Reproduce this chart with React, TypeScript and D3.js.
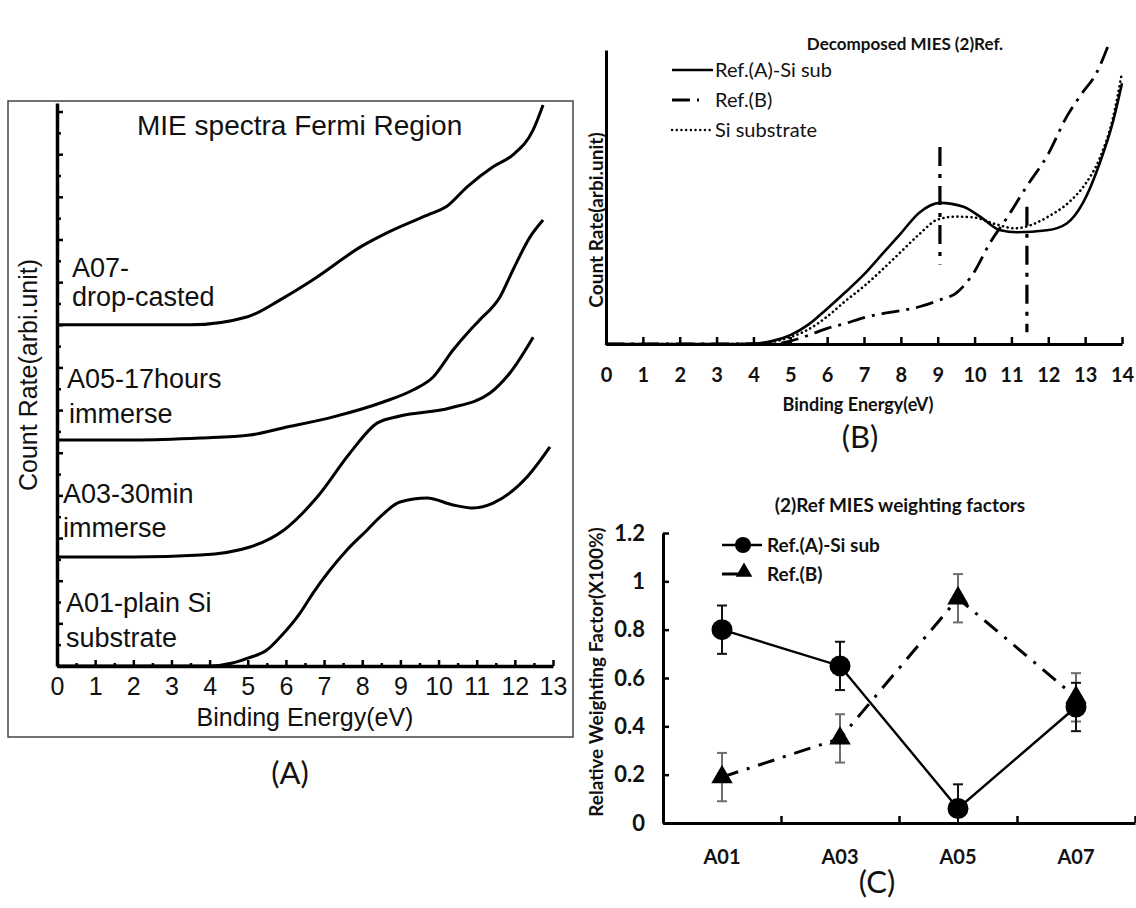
import React, { useEffect, useRef } from 'react'
import * as d3 from 'd3'

// ---------- (A) MIE spectra, Fermi region ----------
const sampleNames = ['A01-plain Si', 'A03-30min', 'A05-17hours', 'A07-']
const sampleSub = ['substrate', 'immerse', 'immerse', 'drop-casted']
const baseOffsets = [0, 5.11, 10.6, 16.0]
const eA01 = [0, 2, 4, 4.6, 5, 5.5, 5.85, 6.37, 6.71, 7.6, 8.13, 8.47, 8.99, 9.7, 10.38, 10.9, 11.43, 12.32, 12.92]
const cA01 = [0, 0, 0, 0.14, 0.37, 0.75, 1.36, 2.48, 3.42, 5.44, 6.38, 6.99, 7.69, 7.88, 7.55, 7.41, 7.64, 8.86, 10.27]
const eA03 = [0, 2, 3.76, 5.06, 5.95, 6.82, 7.68, 8.39, 8.99, 10.3, 11.35, 11.87, 12.48]
const cA03 = [0, 0, 0.09, 0.47, 1.27, 2.81, 4.88, 6.28, 6.61, 6.99, 7.69, 8.63, 10.31]
const eA05 = [0, 2, 3.76, 5.06, 5.92, 7.24, 8.55, 9.33, 9.86, 10.38, 10.83, 11.08, 11.61, 11.95, 12.4, 12.74]
const cA05 = [0, 0, 0.09, 0.23, 0.56, 1.08, 1.78, 2.34, 2.95, 4.22, 5.16, 5.63, 6.7, 7.97, 9.52, 10.31]
const eA07 = [0, 2, 3.5, 5.0, 5.85, 6.71, 8.0, 8.7, 9.78, 10.2, 10.75, 11.43, 11.95, 12.48, 12.74]
const cA07 = [0, 0, 0, 0.38, 1.17, 2.11, 3.7, 4.36, 5.2, 5.53, 6.47, 7.41, 7.97, 9.14, 10.31]
const spectraE = [eA01, eA03, eA05, eA07]
const spectraC = [cA01, cA03, cA05, cA07]
const ticksA = d3.range(0, 14)

// ---------- (B) decomposed MIES, 2 references ----------
const eRefA = [0, 3.5, 4.0, 4.5, 5.0, 5.5, 6.0, 6.5, 7.0, 7.5, 8.0, 8.5, 9.06, 9.7, 10.15, 10.7, 11.15, 11.96, 12.5, 12.94, 13.4, 13.75, 14.0]
const cRefA = [0, 0, 0.005, 0.03, 0.09, 0.2, 0.36, 0.53, 0.71, 0.92, 1.13, 1.34, 1.44, 1.4, 1.3, 1.16, 1.14, 1.16, 1.23, 1.44, 1.85, 2.26, 2.66]
const eRefB = [0, 4.5, 5.0, 5.5, 6.0, 6.5, 7.0, 7.5, 8.0, 8.5, 9.06, 9.5, 10.0, 10.4, 10.9, 11.4, 12.0, 12.5, 12.9, 13.3, 13.62]
const cRefB = [0, 0, 0.03, 0.09, 0.16, 0.21, 0.27, 0.31, 0.34, 0.38, 0.45, 0.52, 0.74, 1.02, 1.3, 1.6, 1.94, 2.32, 2.55, 2.76, 3.04]
const eSi = [0, 4.0, 4.5, 5.0, 5.5, 6.0, 6.5, 7.0, 7.5, 8.0, 8.5, 9.0, 9.5, 10.0, 10.6, 11.1, 11.5, 12.0, 12.6, 13.0, 13.4, 13.75, 14.0]
const cSi = [0, 0, 0.02, 0.07, 0.15, 0.28, 0.44, 0.59, 0.76, 0.94, 1.12, 1.27, 1.3, 1.29, 1.22, 1.18, 1.21, 1.3, 1.46, 1.63, 1.9, 2.3, 2.77]
const markerE = [9.06, 11.42]
const markerFrom = [2.01, 1.4]
const markerTo = [0.81, 0.12]
const legendB = ['Ref.(A)-Si sub', 'Ref.(B)', 'Si substrate']
const ticksB = d3.range(0, 15)

// ---------- (C) weighting factors ----------
const samples = ['A01', 'A03', 'A05', 'A07']
const wRefA = [0.8, 0.65, 0.06, 0.48]
const wRefB = [0.19, 0.35, 0.93, 0.52]
const errRefA = [0.1, 0.1, 0.1, 0.1]
const errRefB = [0.1, 0.1, 0.1, 0.1]
const ticksC = [0, 0.2, 0.4, 0.6, 0.8, 1, 1.2]

const ARIAL = 'Liberation Sans, Arial, sans-serif'
const CAL = 'Lato, Open Sans, sans-serif'

function App() {
  const ref = useRef<SVGSVGElement>(null)

  useEffect(() => {
    const svg = d3.select(ref.current)
    svg.selectAll('*').remove()
    drawA(svg)
    drawB(svg)
    drawC(svg)
  }, [])

  return (
    <svg ref={ref} width={1136} height={908}
      style={{ position: 'absolute', left: 0, top: 0, background: '#fff' }} />
  )
}

function text(g: any, x: number, y: number, s: string, font: string, size: number, opts: any = {}) {
  return g.append('text')
    .attr('x', x).attr('y', y)
    .attr('font-family', font)
    .attr('font-size', size)
    .attr('font-weight', opts.bold ? 'bold' : 'normal')
    .attr('text-anchor', opts.anchor || 'start')
    .attr('transform', opts.rotate ? `rotate(-90,${x},${y})` : null)
    .attr('fill', '#111')
    .text(s)
}

function styleAxis(g: any, font: string, size: number, bold: boolean, width: number) {
  g.select('.domain').attr('stroke', '#000').attr('stroke-width', width)
  g.selectAll('.tick line').attr('stroke', '#000').attr('stroke-width', 2.5)
  g.selectAll('.tick text')
    .attr('font-family', font).attr('font-size', size)
    .attr('font-weight', bold ? 'bold' : 'normal').attr('fill', '#111')
}

function drawA(svg: any) {
  const g = svg.append('g')
  const x = d3.scaleLinear().domain([0, 13]).range([57, 553])
  const y = d3.scaleLinear().domain([0, 26.4]).range([666, 103])

  g.append('rect').attr('x', 8).attr('y', 101).attr('width', 565).attr('height', 636)
    .attr('fill', 'none').attr('stroke', '#444').attr('stroke-width', 1.5)

  const xa = g.append('g').attr('transform', 'translate(0,666)')
    .call(d3.axisBottom(x).tickValues(ticksA).tickSize(-6).tickSizeOuter(0).tickPadding(11).tickFormat(d3.format('d')))
  styleAxis(xa, ARIAL, 25, false, 3.5)
  const xm = g.append('g').attr('transform', 'translate(0,666)')
    .call(d3.axisBottom(x).tickValues(d3.range(0.5, 13, 1)).tickSize(-3).tickSizeOuter(0).tickFormat(() => ''))
  styleAxis(xm, ARIAL, 25, false, 0)

  const ya = g.append('g').attr('transform', 'translate(57,0)')
    .call(d3.axisRight(y).tickValues(d3.range(0, 27, 2)).tickSize(6).tickSizeOuter(0).tickFormat(() => ''))
  styleAxis(ya, ARIAL, 25, false, 3.5)
  const ym = g.append('g').attr('transform', 'translate(57,0)')
    .call(d3.axisRight(y).tickValues(d3.range(1, 27, 2)).tickSize(4).tickSizeOuter(0).tickFormat(() => ''))
  styleAxis(ym, ARIAL, 25, false, 0)

  const line = d3.line<number[]>().x(d => x(d[0])).y(d => y(d[1])).curve(d3.curveMonotoneX)
  spectraE.forEach((es, i) => {
    const pts = es.map((e, j) => [e, spectraC[i][j] + baseOffsets[i]])
    g.append('path').attr('d', line(pts)).attr('fill', 'none')
      .attr('stroke', '#000').attr('stroke-width', 3).attr('stroke-linejoin', 'round')
  })

  text(g, 137, 135, 'MIE spectra Fermi Region', ARIAL, 28)
  const nameX = [66, 63, 67, 72]
  const nameY = [612, 503, 388, 277]
  const subX = [66, 63, 69, 72]
  const subY = [647, 537, 423, 306]
  sampleNames.forEach((s, i) => {
    text(g, nameX[i], nameY[i], s, ARIAL, 27)
    text(g, subX[i], subY[i], sampleSub[i], ARIAL, 27)
  })
  text(g, 305, 726, 'Binding Energy(eV)', ARIAL, 25, { anchor: 'middle' })
  text(g, 37, 375, 'Count Rate(arbi.unit)', ARIAL, 25, { anchor: 'middle', rotate: true })
  text(g, 290, 784, '(A)', CAL, 31, { anchor: 'middle' })
}

function drawB(svg: any) {
  const g = svg.append('g')
  const x = d3.scaleLinear().domain([0, 14]).range([606, 1122])
  const y = d3.scaleLinear().domain([0, 3]).range([344, 50])

  const xa = g.append('g').attr('transform', 'translate(0,344)')
    .call(d3.axisBottom(x).tickValues(ticksB).tickSize(-7).tickSizeOuter(0).tickPadding(24).tickFormat(d3.format('d')))
  styleAxis(xa, CAL, 20, true, 3)
  const ya = g.append('g').attr('transform', 'translate(606,0)')
    .call(d3.axisLeft(y).tickValues([]).tickSizeOuter(0))
  styleAxis(ya, CAL, 20, true, 3)

  const line = d3.line<number[]>().x(d => x(d[0])).y(d => y(d[1])).curve(d3.curveMonotoneX)
  const series = [
    { e: eSi, c: cSi, dash: '0.1,4.6', cap: 'round', w: 2.6 },
    { e: eRefB, c: cRefB, dash: '18,7,3,7', cap: 'butt', w: 2.8 },
    { e: eRefA, c: cRefA, dash: null, cap: 'butt', w: 2.6 },
  ]
  series.forEach(s => {
    const pts = s.e.map((e, j) => [e, s.c[j]])
    g.append('path').attr('d', line(pts)).attr('fill', 'none')
      .attr('stroke', '#000').attr('stroke-width', s.w)
      .attr('stroke-dasharray', s.dash).attr('stroke-linecap', s.cap)
  })

  markerE.forEach((e, i) => {
    g.append('line').attr('x1', x(e)).attr('x2', x(e))
      .attr('y1', y(markerFrom[i])).attr('y2', y(markerTo[i]))
      .attr('stroke', '#000').attr('stroke-width', 3.2).attr('stroke-dasharray', '19,8,4,8')
  })

  // legend
  const lx = 672, lw = 41
  const ly = [70, 100, 130]
  g.append('line').attr('x1', lx).attr('x2', lx + lw).attr('y1', ly[0]).attr('y2', ly[0])
    .attr('stroke', '#000').attr('stroke-width', 2.6)
  g.append('line').attr('x1', lx).attr('x2', lx + lw).attr('y1', ly[1]).attr('y2', ly[1])
    .attr('stroke', '#000').attr('stroke-width', 2.8).attr('stroke-dasharray', '18,7,2,20')
  g.append('line').attr('x1', lx).attr('x2', lx + 38).attr('y1', ly[2]).attr('y2', ly[2])
    .attr('stroke', '#000').attr('stroke-width', 2.4).attr('stroke-dasharray', '0.1,4.6').attr('stroke-linecap', 'round')
  legendB.forEach((s, i) => text(g, 715, ly[i] + 7, s, CAL, 20))

  text(g, 905, 50, 'Decomposed MIES (2)Ref.', CAL, 17, { anchor: 'middle', bold: true })
  text(g, 858, 411, 'Binding Energy(eV)', CAL, 18, { anchor: 'middle', bold: true })
  text(g, 603, 220, 'Count Rate(arbi.unit)', CAL, 19, { anchor: 'middle', bold: true, rotate: true })
  text(g, 860, 448, '(B)', CAL, 31, { anchor: 'middle' })
}

function drawC(svg: any) {
  const g = svg.append('g')
  const x = d3.scaleBand().domain(samples).range([663, 1135])
  const cx = (s: string) => (x(s) as number) + x.bandwidth() / 2
  const y = d3.scaleLinear().domain([0, 1.2]).range([823, 533])

  const ya = g.append('g').attr('transform', 'translate(663,0)')
    .call(d3.axisLeft(y).tickValues(ticksC).tickSize(-6).tickSizeOuter(0).tickPadding(18)
      .tickFormat((d: any) => String(+(+d).toFixed(1))))
  styleAxis(ya, CAL, 22, true, 3)
  const xa = g.append('g').attr('transform', 'translate(0,823)')
    .call(d3.axisBottom(x).tickSize(0).tickSizeOuter(0).tickPadding(27))
  styleAxis(xa, CAL, 20, true, 3)
  const bounds = d3.scaleLinear().domain([0, samples.length]).range([663, 1135])
  const xt = g.append('g').attr('transform', 'translate(0,823)')
    .call(d3.axisBottom(bounds).tickValues(d3.range(1, samples.length + 1)).tickSize(-7).tickSizeOuter(0).tickFormat(() => ''))
  styleAxis(xt, CAL, 20, true, 0)

  const line = d3.line<any>().x((d: any) => cx(d.s)).y((d: any) => y(d.v))
  const ptsA = samples.map((s, i) => ({ s, v: wRefA[i], e: errRefA[i] }))
  const ptsB = samples.map((s, i) => ({ s, v: wRefB[i], e: errRefB[i] }))

  g.append('path').attr('d', line(ptsB)).attr('fill', 'none').attr('stroke', '#000')
    .attr('stroke-width', 3).attr('stroke-dasharray', '17,9,3,9')
  g.append('path').attr('d', line(ptsA)).attr('fill', 'none').attr('stroke', '#000')
    .attr('stroke-width', 2.4)

  // error bars, cut at the zero line like the reference
  const errBar = (pts: any[], color: string) => {
    pts.forEach(p => {
      const px = cx(p.s)
      const lo = Math.max(0, p.v - p.e)
      g.append('line').attr('x1', px).attr('x2', px).attr('y1', y(lo)).attr('y2', y(p.v + p.e))
        .attr('stroke', color).attr('stroke-width', 2)
      const caps = lo > 0 ? [lo, p.v + p.e] : [p.v + p.e]
      caps.forEach(v => {
        g.append('line').attr('x1', px - 5).attr('x2', px + 5).attr('y1', y(v)).attr('y2', y(v))
          .attr('stroke', color).attr('stroke-width', 2)
      })
    })
  }
  errBar(ptsB, '#6e6e6e')
  errBar(ptsA, '#111')

  const tri = d3.symbol().type(d3.symbolTriangle).size(200)
  ptsB.forEach(p => {
    g.append('path').attr('d', tri()).attr('transform', `translate(${cx(p.s)},${y(p.v)})`).attr('fill', '#000')
  })
  ptsA.forEach(p => {
    g.append('circle').attr('cx', cx(p.s)).attr('cy', y(p.v)).attr('r', 10.5).attr('fill', '#000')
  })

  // legend
  g.append('line').attr('x1', 722).attr('x2', 762).attr('y1', 545).attr('y2', 545)
    .attr('stroke', '#000').attr('stroke-width', 2.4)
  g.append('circle').attr('cx', 743).attr('cy', 545).attr('r', 8).attr('fill', '#000')
  g.append('line').attr('x1', 722).attr('x2', 742).attr('y1', 574).attr('y2', 574)
    .attr('stroke', '#000').attr('stroke-width', 3)
  g.append('path').attr('d', d3.symbol().type(d3.symbolTriangle).size(120)())
    .attr('transform', 'translate(744,572)').attr('fill', '#000')
  text(g, 767, 552, 'Ref.(A)-Si sub', CAL, 19, { bold: true })
  text(g, 767, 581, 'Ref.(B)', CAL, 19, { bold: true })

  text(g, 900, 512, '(2)Ref MIES weighting factors', CAL, 19, { anchor: 'middle', bold: true })
  text(g, 603, 672, 'Relative Weighting Factor(X100%)', CAL, 19, { anchor: 'middle', bold: true, rotate: true })
  text(g, 877, 893, '(C)', CAL, 31, { anchor: 'middle' })
}

export default App
